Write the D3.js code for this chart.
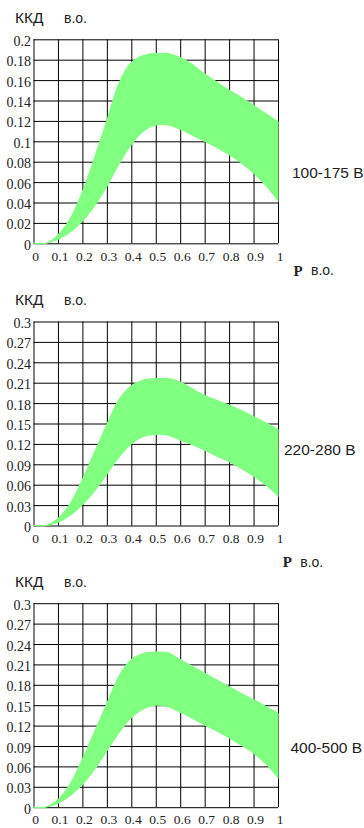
<!DOCTYPE html>
<html>
<head>
<meta charset="utf-8">
<script src="https://cdn.jsdelivr.net/npm/d3@7"></script>
<style>
  body { margin: 0; background: #fff; }
  svg { display: block; }
  .tick-lbl { font-family: "Liberation Serif", "Times New Roman", serif; font-size: 14px; fill: #222; }
  .sans { font-family: "Liberation Sans", Arial, sans-serif; fill: #222; }
</style>
</head>
<body>
<svg width="364" height="828"></svg>
<script>
// значения мощности P, в.о. (общие для всех трёх графиков)
const pValues = [0, 0.05, 0.1, 0.15, 0.2, 0.25, 0.3, 0.35, 0.4, 0.45, 0.5,
                 0.55, 0.6, 0.65, 0.7, 0.75, 0.8, 0.85, 0.9, 0.95, 1.0];

// 100-175 В: верхняя и нижняя граница ККД
const upper100 = [0, 0, 0.008, 0.024, 0.050, 0.084, 0.120, 0.157, 0.177, 0.184, 0.186,
                  0.186, 0.182, 0.175, 0.166, 0.158, 0.150, 0.143, 0.135, 0.127, 0.119];
const lower100 = [0, 0, 0.004, 0.011, 0.022, 0.037, 0.056, 0.078, 0.097, 0.110, 0.116,
                  0.116, 0.112, 0.106, 0.100, 0.094, 0.087, 0.079, 0.069, 0.057, 0.042];

// 220-280 В
const upper220 = [0, 0, 0.010, 0.032, 0.067, 0.108, 0.148, 0.185, 0.205, 0.214, 0.216,
                  0.216, 0.211, 0.201, 0.191, 0.184, 0.177, 0.169, 0.160, 0.151, 0.141];
const lower220 = [0, 0, 0.005, 0.015, 0.031, 0.051, 0.076, 0.101, 0.120, 0.131, 0.134,
                  0.133, 0.126, 0.119, 0.111, 0.102, 0.094, 0.084, 0.073, 0.060, 0.044];

// 400-500 В
const upper400 = [0, 0, 0.011, 0.034, 0.070, 0.111, 0.152, 0.193, 0.217, 0.226, 0.228,
                  0.227, 0.217, 0.207, 0.197, 0.187, 0.177, 0.167, 0.158, 0.148, 0.138];
const lower400 = [0, 0, 0.006, 0.017, 0.034, 0.056, 0.083, 0.110, 0.132, 0.145, 0.150,
                  0.148, 0.140, 0.131, 0.121, 0.112, 0.102, 0.091, 0.080, 0.064, 0.044];

// подписи осей
const xTicks = [0, 0.1, 0.2, 0.3, 0.4, 0.5, 0.6, 0.7, 0.8, 0.9, 1];
const yTicks100 = [0, 0.02, 0.04, 0.06, 0.08, 0.1, 0.12, 0.14, 0.16, 0.18, 0.2];
const yTicks300 = [0, 0.03, 0.06, 0.09, 0.12, 0.15, 0.18, 0.21, 0.24, 0.27, 0.3];
const rangeLabels = ["100-175 В", "220-280 В", "400-500 В"];

const panels = [
    { upper: upper100, lower: lower100, yTicks: yTicks100, yMax: 0.2, label: rangeLabels[0] },
    { upper: upper220, lower: lower220, yTicks: yTicks300, yMax: 0.3, label: rangeLabels[1] },
    { upper: upper400, lower: lower400, yTicks: yTicks300, yMax: 0.3, label: rangeLabels[2] }
];

// расположение областей графиков
const layout = [
    { top: 39.3,  labelX: 292, labelY: 177.7, pX: 293.5, pY: 275.7, showP: true },
    { top: 321.5, labelX: 284, labelY: 455,   pX: 282.7, pY: 567,   showP: true },
    { top: 603.2, labelX: 290.5, labelY: 753, pX: 0,     pY: 0,     showP: false }
];

const attr_area = { left: 33.5, right: 278, height: 204 };
const svg = d3.select("svg");

panels.forEach((p, i) => drawPanel(svg, p, layout[i]));

function drawPanel(svg, p, lay) {
    const bottom = lay.top + attr_area.height;

    const scX = d3.scaleLinear().domain([0, 1]).range([attr_area.left, attr_area.right]);
    const scY = d3.scaleLinear().domain([0, p.yMax]).range([bottom, lay.top]);

    const g = svg.append("g");

    // сетка
    g.append("g")
        .attr("transform", `translate(0, ${bottom})`)
        .call(d3.axisBottom(scX).tickValues(xTicks).tickSize(-attr_area.height).tickFormat(""))
        .call(a => a.select(".domain").remove())
        .selectAll("line").attr("stroke", "#000").attr("stroke-width", 1);

    g.append("g")
        .attr("transform", `translate(${attr_area.left}, 0)`)
        .call(d3.axisLeft(scY).tickValues(p.yTicks).tickSize(-(attr_area.right - attr_area.left)).tickFormat(""))
        .call(a => a.select(".domain").remove())
        .selectAll("line").attr("stroke", "#000").attr("stroke-width", 1);

    // зелёная область между нижней и верхней границами
    const band = pValues.map((x, k) => ({ x: x, lo: p.lower[k], hi: p.upper[k] }));
    const area = d3.area()
        .x(d => scX(d.x))
        .y0(d => scY(d.lo))
        .y1(d => scY(d.hi))
        .curve(d3.curveCatmullRom.alpha(0.5));

    g.append("path")
        .datum(band)
        .attr("d", area)
        .attr("fill", "#80ff80")
        .attr("stroke", "#80ff80")
        .attr("stroke-width", 1.2);

    // подписи по оси Y
    g.selectAll(".ylbl")
        .data(p.yTicks)
        .enter()
        .append("text")
        .attr("class", "tick-lbl")
        .attr("x", 31)
        .attr("y", d => scY(d) + 6.5)
        .attr("text-anchor", "end")
        .text(d => String(+d.toFixed(2)));

    // подписи по оси X
    g.selectAll(".xlbl")
        .data(xTicks)
        .enter()
        .append("text")
        .attr("class", "tick-lbl")
        .style("font-size", "13.5px")
        .attr("x", d => scX(d) + 2)
        .attr("y", bottom + 17.2)
        .attr("text-anchor", "middle")
        .text(d => String(d));

    // заголовок оси Y
    g.append("text").attr("class", "sans")
        .attr("x", 15).attr("y", lay.top - 16.5)
        .style("font-size", "15.5px")
        .text("ККД");
    g.append("text").attr("class", "sans")
        .attr("x", 64).attr("y", lay.top - 16.5)
        .style("font-size", "14px")
        .text("в.о.");

    // подпись диапазона напряжения
    g.append("text").attr("class", "sans")
        .attr("x", lay.labelX).attr("y", lay.labelY)
        .style("font-size", "15.5px")
        .text(p.label);

    // подпись оси X
    if (lay.showP) {
        g.append("text").attr("class", "tick-lbl")
            .attr("x", lay.pX).attr("y", lay.pY)
            .style("font-size", "15px").style("font-weight", "bold")
            .text("P");
        g.append("text").attr("class", "sans")
            .attr("x", lay.pX + 17.5).attr("y", lay.pY - 0.5)
            .style("font-size", "14px")
            .text("в.о.");
    }
}
</script>
</body>
</html>
